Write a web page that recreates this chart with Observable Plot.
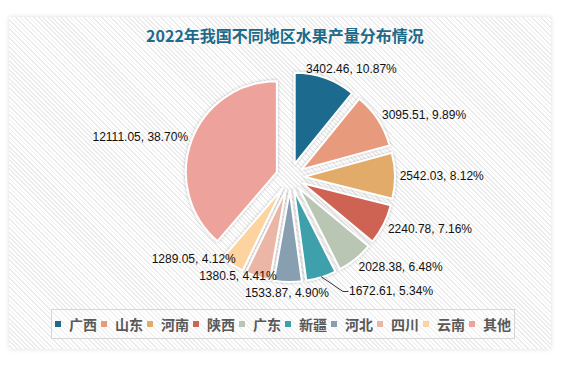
<!DOCTYPE html>
<html><head><meta charset="utf-8">
<script src="https://cdn.jsdelivr.net/npm/d3@7"></script>
<script src="https://cdn.jsdelivr.net/npm/@observablehq/plot@0.6"></script>
<style>
html,body{margin:0;padding:0;background:#fff;width:576px;height:374px;overflow:hidden;}
#panel{position:absolute;left:9px;top:17px;width:542px;height:332px;
  background:repeating-linear-gradient(45deg,#ffffff 0px,#ffffff 2px,#ebebeb 2px,#ebebeb 3.2px);
  box-shadow:0 0 5px rgba(0,0,0,0.13);}
#title{position:absolute;left:9px;width:552px;top:24px;text-align:center;
  font-family:"Noto Sans CJK SC",sans-serif;font-weight:bold;font-size:16px;line-height:22px;color:#1e6a8a;}
#chart{position:absolute;left:0;top:0;}
#legend{position:absolute;left:51px;top:309px;width:464px;height:30px;border:1px solid #d6d6d6;
  box-sizing:border-box;display:flex;align-items:center;padding-left:3px;background:rgba(255,255,255,0.3);}
.item{display:flex;align-items:center;margin-right:4px;flex-shrink:0;white-space:nowrap;}
.sw{width:6px;height:6px;margin-right:8px;flex-shrink:0;}
.lt{font-family:"Noto Sans CJK SC",sans-serif;font-weight:bold;font-size:14px;color:#595959;line-height:16px;white-space:nowrap;}
</style></head>
<body>
<div id="panel"></div>
<div id="title">2022年我国不同地区水果产量分布情况</div>
<div id="chart"></div>
<div id="legend"></div>
<script>
const regions = ["广西","山东","河南","陕西","广东","新疆","河北","四川","云南","其他"];
const output = [3402.46,3095.51,2542.03,2240.78,2028.38,1672.61,1533.87,1380.5,1289.05,12111.05];
const colors = ["#1d6b8d","#e89b7b","#e2ab69","#cf6453","#b9c6b3","#3da0aa","#889fb2","#ebb6a6","#fdd3a0","#eda39b"];

const W = 576, H = 374, CX = 290, CY = 177, R = 91;
const EXPLODE = 14 / R;   // slice offset, in radius units
const LR = 1.2;           // label radius, in radius units
const FONT = "12px 'Liberation Sans', Arial, sans-serif";

const total = d3.sum(output);
const data = regions.map((r, i) => ({region: r, value: output[i]}));
const arcs = d3.pie().sort(null).value(d => d.value)(data);

const colorScale = Plot.scale({color: {type: "ordinal", domain: regions, range: colors}});

// measure label widths
const ctx = document.createElement("canvas").getContext("2d");
ctx.font = FONT;
const fmt = d3.format(".2f");

const slices = arcs.map(a => {
  const mid = (a.startAngle + a.endAngle) / 2;
  const sx = Math.sin(mid), sy = -Math.cos(mid);
  const text = `${a.data.value}, ${fmt(a.data.value / total * 100)}%`;
  const w = ctx.measureText(text).width / R, h = 12 / R;
  const px = sx * LR, py = sy * LR;
  const f = Math.max(-1, Math.min(1, sx * 1.6));
  return {
    ...a, region: a.data.region, mid, sx, sy, text, w, h,
    ex: sx * EXPLODE, ey: sy * EXPLODE,
    lx: px + f * w / 2, ly: py + sy * h / 2, moved: false
  };
});

// simple collision avoidance, starting from the bottom of the pie
const order = slices.slice().sort((a, b) => Math.abs(a.mid - Math.PI) - Math.abs(b.mid - Math.PI));
const placed = [];
const pad = 2 / R, padUp = 5 / R, padX = 20 / R;
const overlaps = (a, b) => Math.abs(a.lx - b.lx) < (a.w + b.w) / 2 + pad && Math.abs(a.ly - b.ly) < (a.h + b.h) / 2 + pad;
for (const s of order) {
  for (let k = 0; k < 10; k++) {
    const hit = placed.find(p => overlaps(s, p));
    if (!hit) break;
    if (s.sx > 0.05) { s.lx = hit.lx + hit.w / 2 + padX + s.w / 2; s.ly += 4 / R; s.moved = true; }
    else { s.ly = hit.ly - hit.h / 2 - padUp - s.h / 2; }
  }
  placed.push(s);
}

// leader lines for labels pushed sideways
const leaders = [];
slices.filter(s => s.moved).forEach(s => {
  const left = s.lx - s.w / 2;
  const id = s.region;
  leaders.push({id, x: s.sx * (1 + EXPLODE - 0.01), y: s.sy * (1 + EXPLODE - 0.01)});
  leaders.push({id, x: left - 6 / R, y: s.ly});
  leaders.push({id, x: left - 1 / R, y: s.ly});
});

function slicesMark(index, scales) {
  const X = scales.x, Y = scales.y;
  const rpx = X(1) - X(0);
  const g = d3.create("svg:g");
  const defs = g.append("defs");
  const filt = defs.append("filter").attr("id", "sh").attr("x", "-20%").attr("y", "-20%").attr("width", "140%").attr("height", "140%");
  filt.append("feDropShadow").attr("dx", 0).attr("dy", 0).attr("stdDeviation", 1.6)
      .attr("flood-color", "#000").attr("flood-opacity", 0.28);
  const arcGen = d3.arc().innerRadius(0).outerRadius(rpx);
  for (const s of slices) {
    g.append("path")
      .attr("d", arcGen(s))
      .attr("transform", `translate(${X(s.ex)},${Y(s.ey)})`)
      .attr("fill", colorScale.apply(s.region))
      .attr("stroke", "#fff").attr("stroke-width", 2).attr("stroke-linejoin", "round")
      .attr("filter", "url(#sh)");
  }
  return g.node();
}

const chart = Plot.plot({
  width: W, height: H,
  marginTop: 0, marginRight: 0, marginBottom: 0, marginLeft: 0,
  style: {background: "transparent", overflow: "visible"},
  x: {domain: [-1, 1], range: [CX - R, CX + R], axis: null},
  y: {domain: [-1, 1], range: [CY - R, CY + R], axis: null},
  marks: [
    slicesMark,
    Plot.line(leaders, {x: "x", y: "y", z: "id", stroke: "#333", strokeWidth: 1}),
    Plot.text(slices, {x: "lx", y: "ly", text: "text", fontSize: 12,
      fontFamily: "'Liberation Sans', Arial, sans-serif", fill: "#111", textAnchor: "middle"})
  ]
});
document.getElementById("chart").appendChild(chart);

// legend
const lg = d3.select("#legend");
regions.forEach(r => {
  const it = lg.append("div").attr("class", "item");
  it.append("div").attr("class", "sw").style("background", colorScale.apply(r));
  it.append("div").attr("class", "lt").text(r);
});
</script>
</body></html>
